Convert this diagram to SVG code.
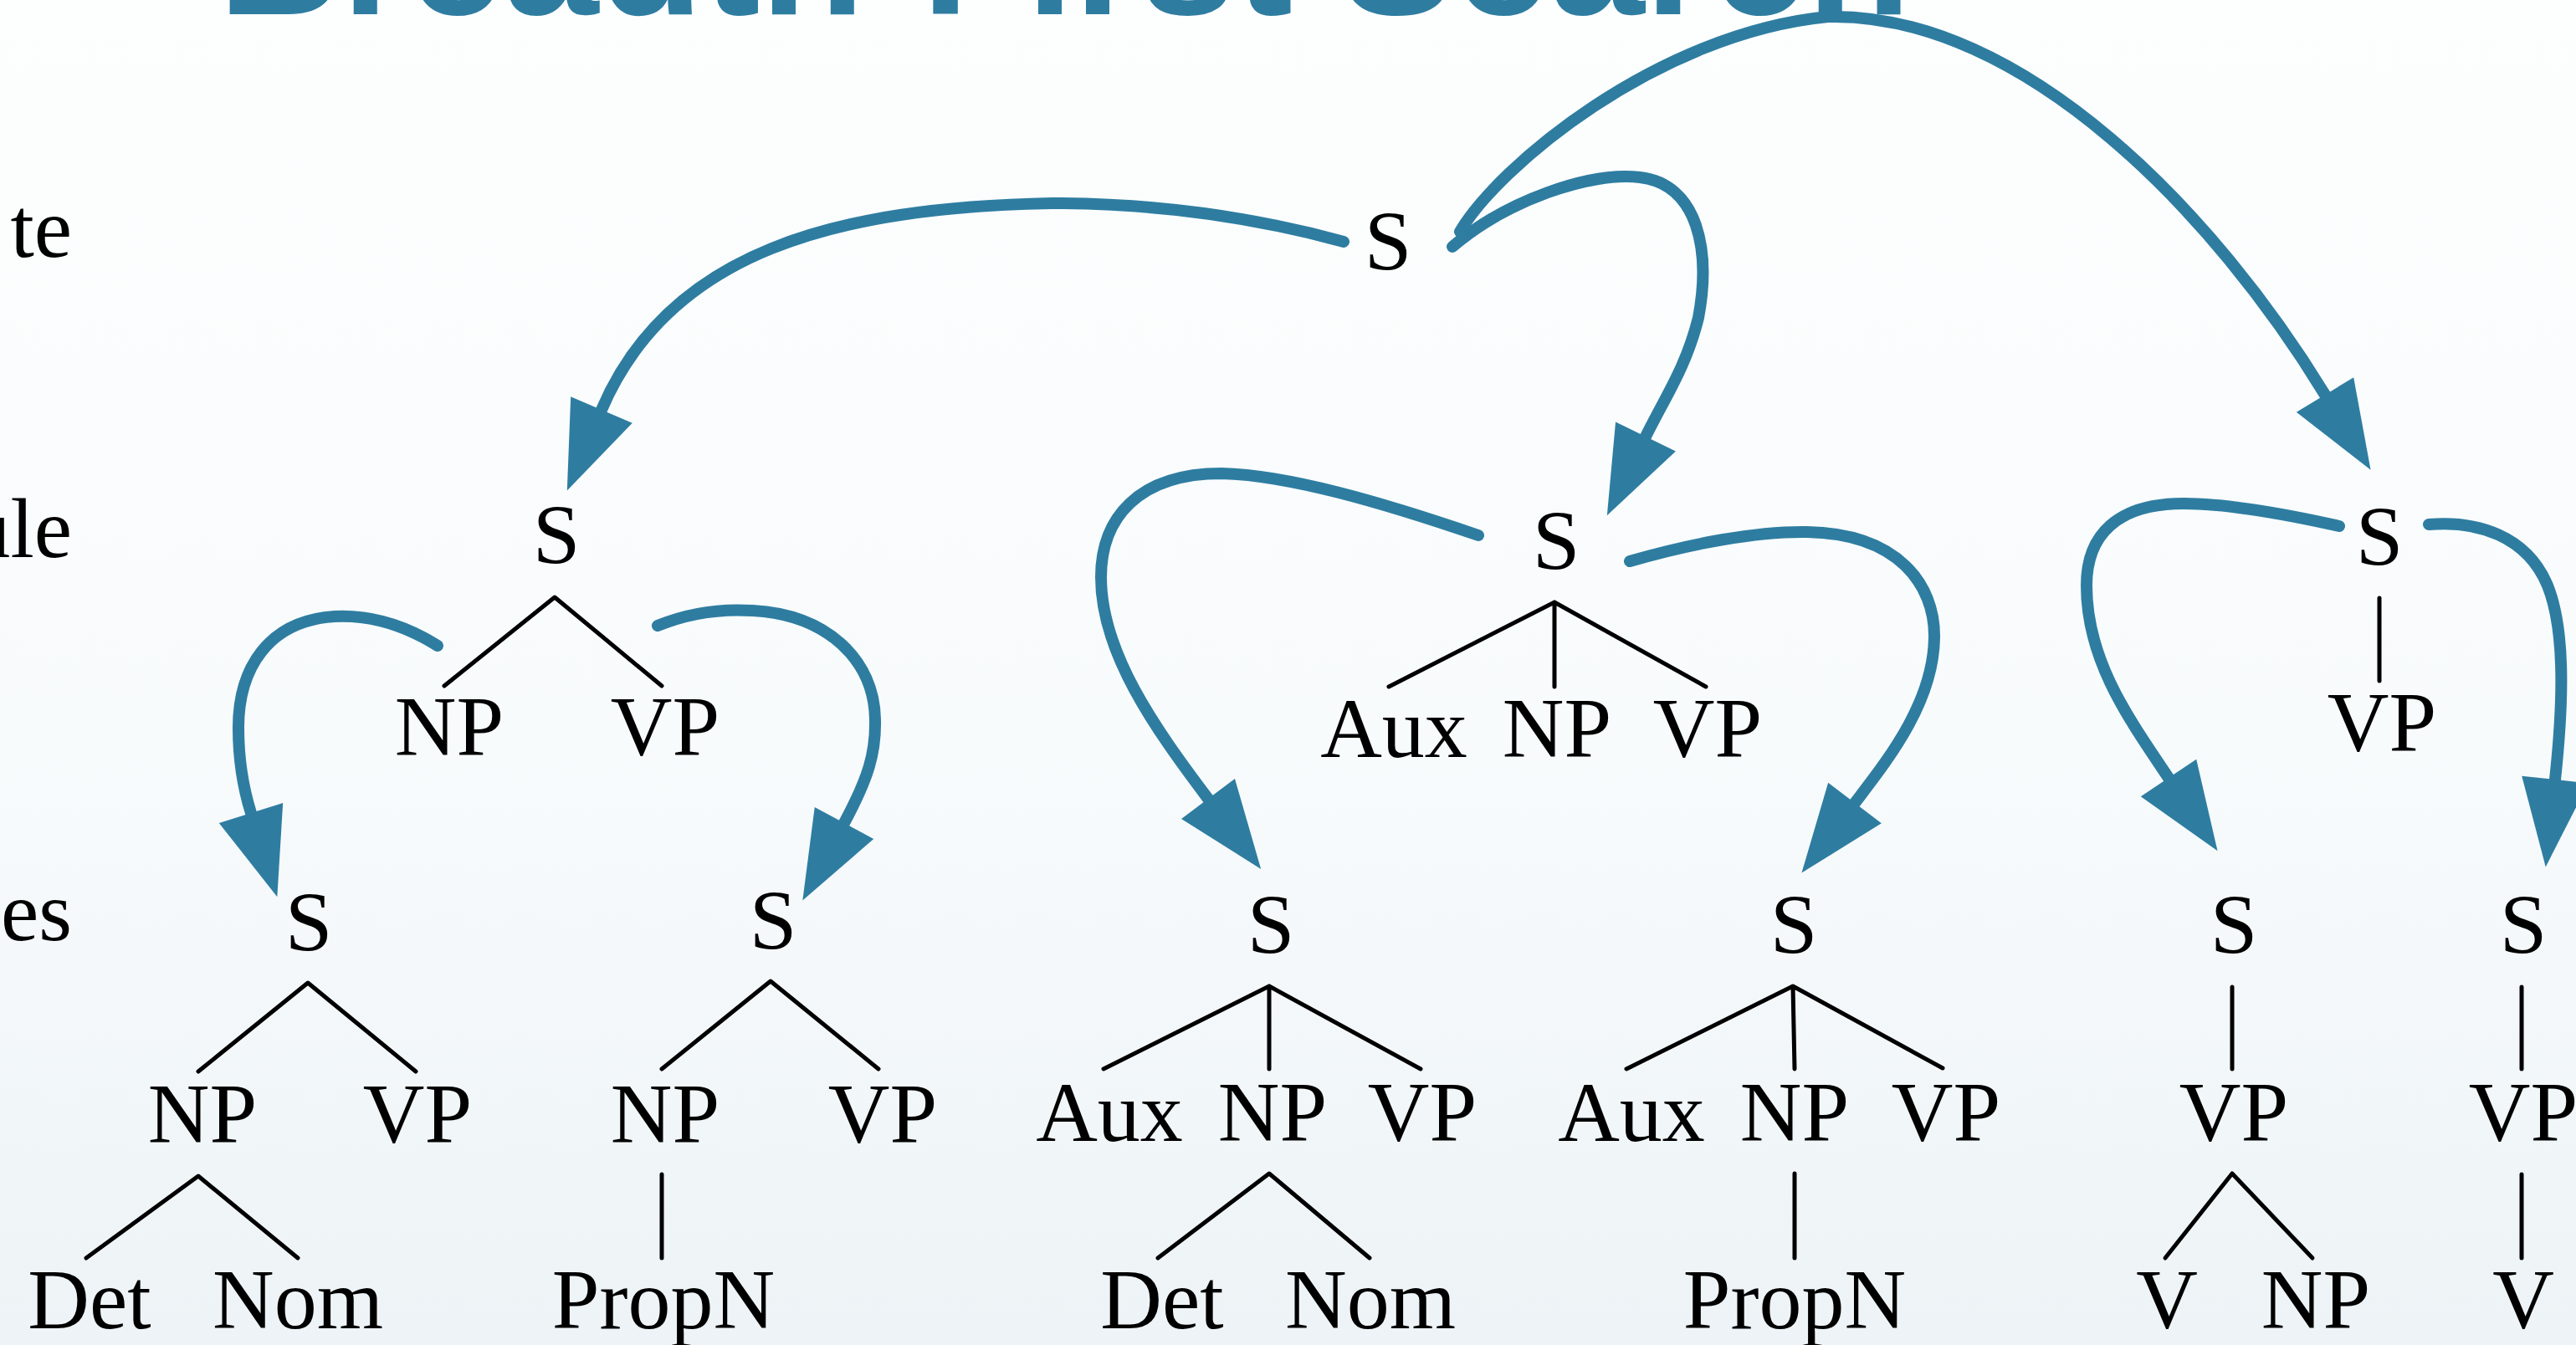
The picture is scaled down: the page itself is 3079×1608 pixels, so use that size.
<svg xmlns="http://www.w3.org/2000/svg" width="3079" height="1608" viewBox="0 0 3079 1608">
  <defs>
    <linearGradient id="bg" x1="0" y1="0" x2="0" y2="1">
      <stop offset="0" stop-color="#fdfefe"/>
      <stop offset="0.55" stop-color="#f8fbfc"/>
      <stop offset="1" stop-color="#edf3f6"/>
    </linearGradient>
    <marker id="head" markerUnits="userSpaceOnUse" markerWidth="110" markerHeight="84" refX="0" refY="40" orient="auto" overflow="visible">
      <path d="M0,0 L105,40 L0,80 Z" fill="#2e7da1"/>
    </marker>
    <style>
      .lbl { font-family: "Liberation Serif", "Times New Roman", serif; font-size: 102px; fill: #000; text-anchor: middle; }
      .side { font-family: "Liberation Serif", "Times New Roman", serif; font-size: 102px; fill: #000; text-anchor: end; }
      .title { font-family: "Liberation Sans", Arial, sans-serif; font-weight: bold; font-size: 204px; fill: #2e7da1; }
      .edge { stroke: #000; stroke-width: 5; stroke-linecap: round; stroke-linejoin: round; fill: none; }
      .arc { stroke: #2e7da1; stroke-width: 14; stroke-linecap: round; fill: none; marker-end: url(#head); }
    </style>
  </defs>

  <rect x="0" y="0" width="3079" height="1608" fill="url(#bg)"/>

  <!-- heading, mostly above the top edge -->
  <text class="title" x="261" y="17" textLength="2023" lengthAdjust="spacing">Breadth-First Search</text>

  <!-- row captions, cut by the left edge -->
  <g id="captions">
    <text class="side" x="86" y="307">te</text>
    <text class="side" x="86" y="666">ule</text>
    <text class="side" x="86" y="1124">es</text>
  </g>

  <!-- level 1 -->
  <g id="root">
    <text class="lbl" x="1659" y="323">S</text>
  </g>

  <!-- level 2 -->
  <g id="rule1">
    <text class="lbl" x="665" y="674">S</text>
    <path class="edge" d="M531,820 L663,714 L791,820"/>
    <text class="lbl" x="537" y="903">NP</text>
    <text class="lbl" x="795" y="903">VP</text>
  </g>
  <g id="rule2">
    <text class="lbl" x="1860" y="681">S</text>
    <path class="edge" d="M1660,821 L1858,720 L2039,821 M1858,720 L1858,821"/>
    <text class="lbl" x="1666" y="905">Aux</text>
    <text class="lbl" x="1861" y="905">NP</text>
    <text class="lbl" x="2041" y="905">VP</text>
  </g>
  <g id="rule3">
    <text class="lbl" x="2844" y="676">S</text>
    <path class="edge" d="M2844,715 L2844,814"/>
    <text class="lbl" x="2847" y="898">VP</text>
  </g>

  <!-- level 3 -->
  <g id="tree1">
    <text class="lbl" x="369" y="1137">S</text>
    <path class="edge" d="M237,1281 L368,1175 L497,1281"/>
    <text class="lbl" x="242" y="1366">NP</text>
    <text class="lbl" x="499" y="1366">VP</text>
    <path class="edge" d="M103,1504 L237,1406 L356,1504"/>
    <text class="lbl" x="107" y="1588">Det</text>
    <text class="lbl" x="356" y="1588">Nom</text>
  </g>
  <g id="tree2">
    <text class="lbl" x="924" y="1135">S</text>
    <path class="edge" d="M791,1278 L921,1173 L1050,1278"/>
    <text class="lbl" x="795" y="1366">NP</text>
    <text class="lbl" x="1055" y="1366">VP</text>
    <path class="edge" d="M791,1404 L791,1504"/>
    <text class="lbl" x="793" y="1588">PropN</text>
  </g>
  <g id="tree3">
    <text class="lbl" x="1519" y="1140">S</text>
    <path class="edge" d="M1319,1278 L1517,1179 L1698,1278 M1517,1179 L1517,1278"/>
    <text class="lbl" x="1326" y="1364">Aux</text>
    <text class="lbl" x="1521" y="1364">NP</text>
    <text class="lbl" x="1700" y="1364">VP</text>
    <path class="edge" d="M1384,1504 L1517,1403 L1637,1504"/>
    <text class="lbl" x="1389" y="1588">Det</text>
    <text class="lbl" x="1638" y="1588">Nom</text>
  </g>
  <g id="tree4">
    <text class="lbl" x="2144" y="1140">S</text>
    <path class="edge" d="M1944,1278 L2143,1179 L2322,1277 M2143,1179 L2145,1278"/>
    <text class="lbl" x="1950" y="1364">Aux</text>
    <text class="lbl" x="2145" y="1364">NP</text>
    <text class="lbl" x="2326" y="1364">VP</text>
    <path class="edge" d="M2145,1403 L2145,1504"/>
    <text class="lbl" x="2145" y="1588">PropN</text>
  </g>
  <g id="tree5">
    <text class="lbl" x="2670" y="1140">S</text>
    <path class="edge" d="M2668,1180 L2668,1278"/>
    <text class="lbl" x="2670" y="1364">VP</text>
    <path class="edge" d="M2588,1504 L2668,1403 L2764,1504"/>
    <text class="lbl" x="2590" y="1588">V</text>
    <text class="lbl" x="2768" y="1588">NP</text>
  </g>
  <g id="tree6">
    <text class="lbl" x="3016" y="1140">S</text>
    <path class="edge" d="M3014,1180 L3014,1278"/>
    <text class="lbl" x="3016" y="1364">VP</text>
    <path class="edge" d="M3014,1404 L3014,1504"/>
    <text class="lbl" x="3016" y="1588">V</text>
  </g>

  <!-- expansion arrows -->
  <g id="connectors">
    <path class="arc" d="M1606,289 C1500,260 1380,243 1257,243 C1000,248 800,300 719,490"/>
    <path class="arc" d="M1736,295 C1800,240 1900,205 1960,212 C2030,220 2045,300 2030,380 C2015,440 1990,475 1967,522"/>
    <path class="arc" d="M1745,277 C1790,200 1980,40 2185,20 C2420,15 2650,260 2779,472"/>
    <path class="arc" d="M523,772 C480,745 440,735 400,737 C320,742 285,800 285,870 C285,905 290,940 300,972"/>
    <path class="arc" d="M786,748 C830,730 870,728 900,730 C990,735 1045,790 1046,860 C1047,900 1038,930 1009,984"/>
    <path class="arc" d="M1767,640 C1650,600 1540,568 1460,566 C1360,566 1316,620 1316,690 C1316,780 1380,870 1444,955"/>
    <path class="arc" d="M1948,671 C2020,650 2100,635 2160,636 C2270,638 2312,700 2312,760 C2312,840 2255,910 2217,960"/>
    <path class="arc" d="M2796,629 C2720,612 2660,602 2610,602 C2530,602 2494,640 2494,700 C2494,790 2545,860 2592,930"/>
    <path class="arc" d="M2903,627 C2960,622 3020,640 3045,700 C3065,750 3065,830 3054,932"/>
  </g>
</svg>
